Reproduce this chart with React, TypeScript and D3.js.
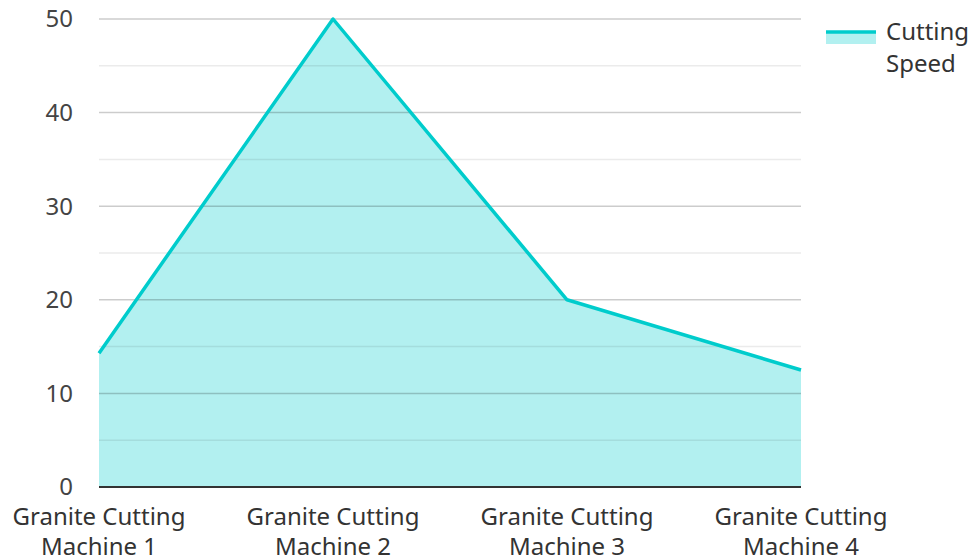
import { useEffect, useRef } from "react";
import * as d3 from "d3";

const categories = [
  "Granite Cutting Machine 1",
  "Granite Cutting Machine 2",
  "Granite Cutting Machine 3",
  "Granite Cutting Machine 4",
];
const cuttingSpeed = [14.3, 50, 20, 12.5];
const yTicks = [0, 10, 20, 30, 40, 50];
const minorTicks = [5, 15, 25, 35, 45];
const seriesName = ["Cutting", "Speed"];

const W = 972;
const H = 559;
const FONT = "'Noto Sans', 'Open Sans', sans-serif";
const LINE = "#00cccc";
const FILL = "rgba(0, 204, 204, 0.3)";

export default function App() {
  const svgRef = useRef<SVGSVGElement>(null);

  useEffect(() => {
    if (!svgRef.current) return;
    const svg = d3.select(svgRef.current);
    svg.selectAll("*").remove();

    const left = 99, right = 801, top = 19, bottom = 487;
    const x = d3.scalePoint<string>().domain(categories).range([left, right]);
    const y = d3.scaleLinear().domain([0, 50]).range([bottom, top]);

    const data = categories.map((c, i) => ({ c, v: cuttingSpeed[i] }));

    // area
    svg
      .append("path")
      .datum(data)
      .attr("fill", FILL)
      .attr(
        "d",
        d3
          .area<{ c: string; v: number }>()
          .x((d) => x(d.c)!)
          .y0(y(0))
          .y1((d) => y(d.v))
      );

    // grid
    const grid = svg.append("g");
    grid
      .selectAll("line.minor")
      .data(minorTicks)
      .join("line")
      .attr("x1", left).attr("x2", right)
      .attr("y1", (d) => y(d)).attr("y2", (d) => y(d))
      .attr("stroke", "rgba(0,0,0,0.08)")
      .attr("stroke-width", 1.5);
    grid
      .selectAll("line.major")
      .data(yTicks.filter((t) => t > 0))
      .join("line")
      .attr("x1", left).attr("x2", right)
      .attr("y1", (d) => y(d)).attr("y2", (d) => y(d))
      .attr("stroke", "rgba(0,0,0,0.2)")
      .attr("stroke-width", 1.5);

    // line
    svg
      .append("path")
      .datum(data)
      .attr("fill", "none")
      .attr("stroke", LINE)
      .attr("stroke-width", 3.5)
      .attr("stroke-linejoin", "round")
      .attr(
        "d",
        d3
          .line<{ c: string; v: number }>()
          .x((d) => x(d.c)!)
          .y((d) => y(d.v))
      );

    // x axis baseline
    svg
      .append("line")
      .attr("x1", left).attr("x2", right)
      .attr("y1", y(0)).attr("y2", y(0))
      .attr("stroke", "#333")
      .attr("stroke-width", 2);

    // y labels
    svg
      .append("g")
      .selectAll("text")
      .data(yTicks)
      .join("text")
      .attr("x", 73)
      .attr("y", (d) => y(d))
      .attr("dy", "0.35em")
      .attr("text-anchor", "end")
      .attr("font-family", FONT)
      .attr("font-size", 24)
      .attr("fill", "#444")
      .text((d) => d);

    // x labels
    const xl = svg
      .append("g")
      .selectAll("text")
      .data(categories)
      .join("text")
      .attr("x", (d) => x(d)!)
      .attr("y", 525)
      .attr("text-anchor", "middle")
      .attr("font-family", FONT)
      .attr("font-size", 24)
      .attr("fill", "#333");
    xl.each(function (d) {
      const parts = d.split(" ");
      const t = d3.select(this);
      t.append("tspan").attr("x", x(d)!).text(parts.slice(0, 2).join(" "));
      t.append("tspan").attr("x", x(d)!).attr("dy", 30).text(parts.slice(2).join(" "));
    });

    // legend
    const lg = svg.append("g");
    lg.append("rect").attr("x", 826).attr("y", 32).attr("width", 50).attr("height", 12).attr("fill", FILL);
    lg.append("line").attr("x1", 826).attr("x2", 876).attr("y1", 32).attr("y2", 32)
      .attr("stroke", LINE).attr("stroke-width", 3.5);
    lg.selectAll("text")
      .data(seriesName)
      .join("text")
      .attr("x", 886)
      .attr("y", (_, i) => 40 + i * 32)
      .attr("font-family", FONT)
      .attr("font-size", 24)
      .attr("fill", "#333")
      .text((d) => d);
  }, []);

  return (
    <svg
      ref={svgRef}
      width={W}
      height={H}
      style={{ position: "absolute", left: 0, top: 0, background: "#fff" }}
    />
  );
}
